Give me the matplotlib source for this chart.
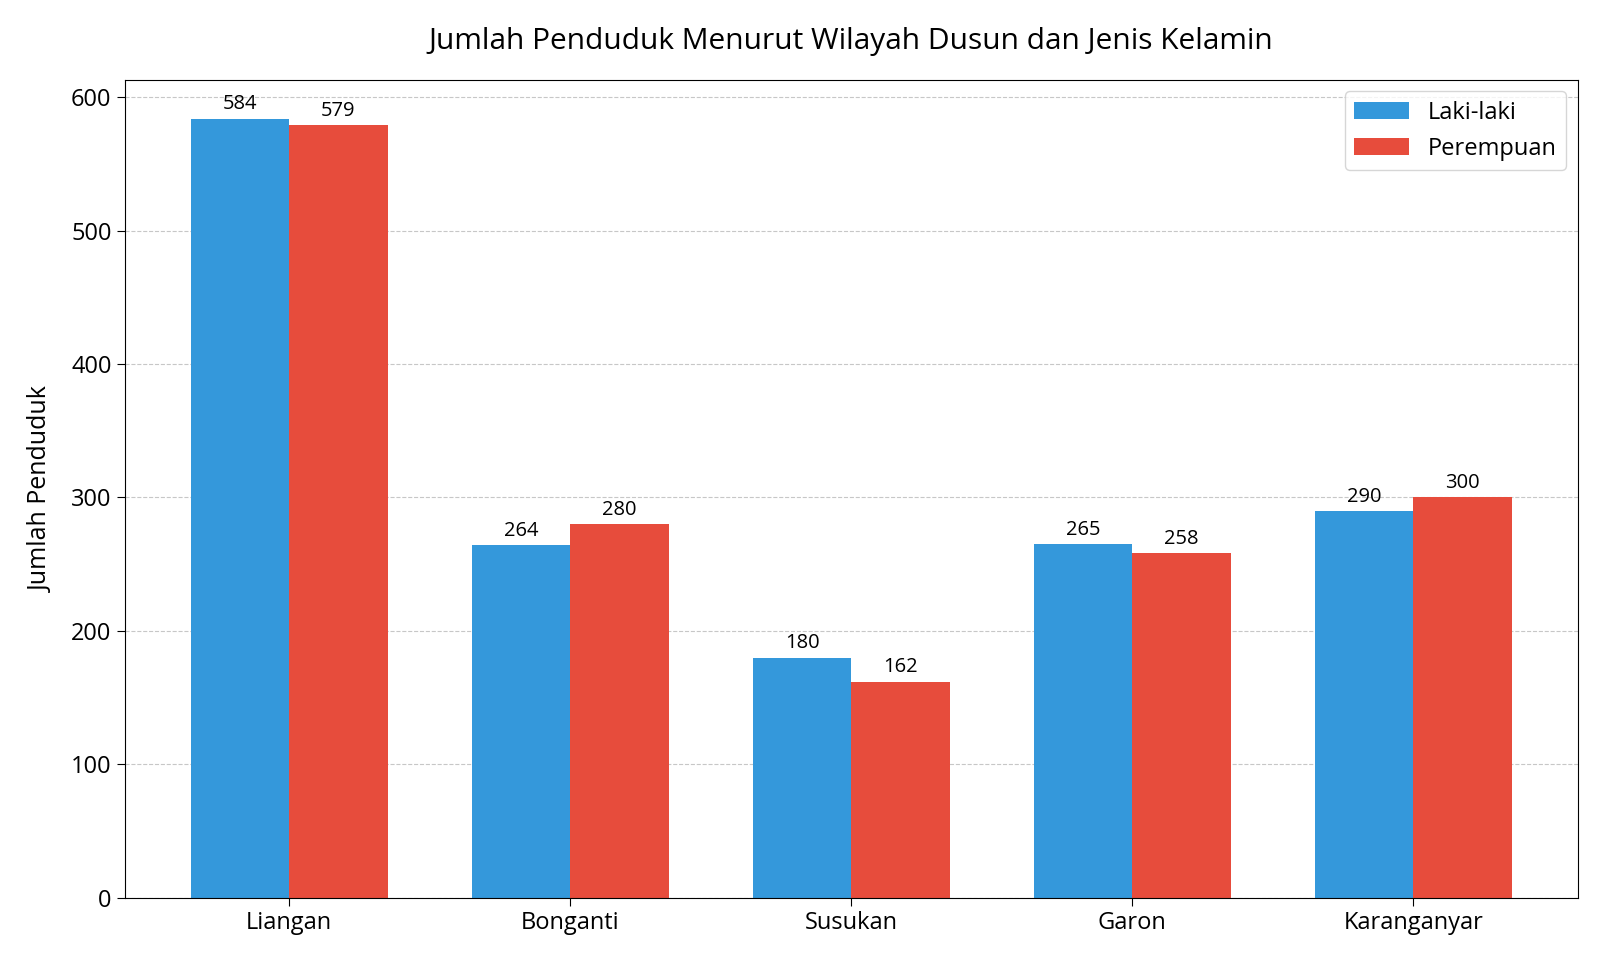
import numpy as np
import matplotlib
matplotlib.use("Agg")
import matplotlib.pyplot as plt

plt.rcParams['font.family'] = ['Open Sans', 'DejaVu Sans']

dusun = ["Liangan", "Bonganti", "Susukan", "Garon", "Karanganyar"]
laki = [584, 264, 180, 265, 290]
perempuan = [579, 280, 162, 258, 300]

x = np.arange(len(dusun))
width = 0.35

fig, ax = plt.subplots(figsize=(16, 9.6), dpi=100)

b1 = ax.bar(x - width / 2, laki, width, label="Laki-laki", color="#3498db")
b2 = ax.bar(x + width / 2, perempuan, width, label="Perempuan", color="#e74c3c")

for bars in (b1, b2):
    for bar in bars:
        h = bar.get_height()
        ax.annotate(f"{h:d}", xy=(bar.get_x() + bar.get_width() / 2, h),
                    xytext=(0, 3), textcoords="offset points",
                    ha="center", va="bottom", fontsize=14.5)

ax.set_title("Jumlah Penduduk Menurut Wilayah Dusun dan Jenis Kelamin",
             fontsize=21.5, pad=22)
ax.set_ylabel("Jumlah Penduduk", fontsize=18, labelpad=12)
ax.set_xticks(x)
ax.set_xticklabels(dusun)
ax.tick_params(axis="both", labelsize=17, length=6)
ax.grid(axis="y", linestyle="--", alpha=0.7)
ax.set_axisbelow(True)
ax.legend(loc="upper right", fontsize=17, handlelength=2.3)

plt.subplots_adjust(left=0.078, right=0.986, top=0.917, bottom=0.065)
plt.savefig("out.png", dpi=100)
